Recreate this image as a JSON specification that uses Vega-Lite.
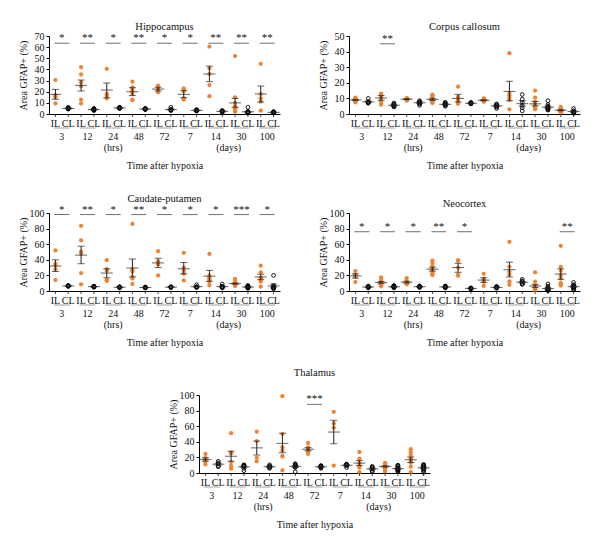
{
"$schema": "https://vega.github.io/schema/vega-lite/v6.json",
"padding": {"left": 18, "top": 21, "right": 2, "bottom": 2},
"config": {
 "font": "Liberation Serif",
 "view": {"stroke": null},
 "axis": {"grid": false, "domainColor": "black", "tickColor": "black", "labelColor": "#111", "titleColor": "#111", "labelFont": "Liberation Serif", "titleFont": "Liberation Serif", "labelFontSize": 10, "titleFontSize": 10, "titleFontWeight": "normal"},
 "axisY": {"tickSize": 3, "labelPadding": 2},
 "title": {"font": "Liberation Serif", "fontSize": 10.5, "fontWeight": "normal", "color": "#111"},
 "text": {"font": "Liberation Serif", "color": "#111"}
},
"datasets": {"d": [
{"p":"all","k":"lab","t":"3","s":"IL","v":0},{"p":"all","k":"lab","t":"3","s":"CL","v":0},
{"p":"all","k":"lab","t":"12","s":"IL","v":0},{"p":"all","k":"lab","t":"12","s":"CL","v":0},
{"p":"all","k":"lab","t":"24","s":"IL","v":0},{"p":"all","k":"lab","t":"24","s":"CL","v":0},
{"p":"all","k":"lab","t":"48","s":"IL","v":0},{"p":"all","k":"lab","t":"48","s":"CL","v":0},
{"p":"all","k":"lab","t":"72","s":"IL","v":0},{"p":"all","k":"lab","t":"72","s":"CL","v":0},
{"p":"all","k":"lab","t":"7","s":"IL","v":0},{"p":"all","k":"lab","t":"7","s":"CL","v":0},
{"p":"all","k":"lab","t":"14","s":"IL","v":0},{"p":"all","k":"lab","t":"14","s":"CL","v":0},
{"p":"all","k":"lab","t":"30","s":"IL","v":0},{"p":"all","k":"lab","t":"30","s":"CL","v":0},
{"p":"all","k":"lab","t":"100","s":"IL","v":0},{"p":"all","k":"lab","t":"100","s":"CL","v":0},
{"p":"all","k":"u","t":"24","txt":"(hrs)","v":0},
{"p":"all","k":"u2","t":"14","txt":"(days)","v":0},

{"p":"H","k":"pt","t":"3","s":"IL","v":30.5},{"p":"H","k":"pt","t":"3","s":"IL","v":17},{"p":"H","k":"pt","t":"3","s":"IL","v":16},{"p":"H","k":"pt","t":"3","s":"IL","v":15},{"p":"H","k":"pt","t":"3","s":"IL","v":9.5},
{"p":"H","k":"pt","t":"3","s":"CL","v":4.5},{"p":"H","k":"pt","t":"3","s":"CL","v":5},{"p":"H","k":"pt","t":"3","s":"CL","v":5.5},{"p":"H","k":"pt","t":"3","s":"CL","v":5},{"p":"H","k":"pt","t":"3","s":"CL","v":6},{"p":"H","k":"pt","t":"3","s":"CL","v":4.5},
{"p":"H","k":"pt","t":"12","s":"IL","v":42},{"p":"H","k":"pt","t":"12","s":"IL","v":35.5},{"p":"H","k":"pt","t":"12","s":"IL","v":28.5},{"p":"H","k":"pt","t":"12","s":"IL","v":25},{"p":"H","k":"pt","t":"12","s":"IL","v":13},{"p":"H","k":"pt","t":"12","s":"IL","v":9.5},
{"p":"H","k":"pt","t":"12","s":"CL","v":3},{"p":"H","k":"pt","t":"12","s":"CL","v":4},{"p":"H","k":"pt","t":"12","s":"CL","v":4.5},{"p":"H","k":"pt","t":"12","s":"CL","v":5},{"p":"H","k":"pt","t":"12","s":"CL","v":3.5},{"p":"H","k":"pt","t":"12","s":"CL","v":4},{"p":"H","k":"pt","t":"12","s":"CL","v":4.5},
{"p":"H","k":"pt","t":"24","s":"IL","v":40.5},{"p":"H","k":"pt","t":"24","s":"IL","v":18},{"p":"H","k":"pt","t":"24","s":"IL","v":17},{"p":"H","k":"pt","t":"24","s":"IL","v":15.5},{"p":"H","k":"pt","t":"24","s":"IL","v":14},
{"p":"H","k":"pt","t":"24","s":"CL","v":5},{"p":"H","k":"pt","t":"24","s":"CL","v":6},{"p":"H","k":"pt","t":"24","s":"CL","v":5.5},{"p":"H","k":"pt","t":"24","s":"CL","v":6},{"p":"H","k":"pt","t":"24","s":"CL","v":5},
{"p":"H","k":"pt","t":"48","s":"IL","v":29},{"p":"H","k":"pt","t":"48","s":"IL","v":24},{"p":"H","k":"pt","t":"48","s":"IL","v":22},{"p":"H","k":"pt","t":"48","s":"IL","v":20},{"p":"H","k":"pt","t":"48","s":"IL","v":18},{"p":"H","k":"pt","t":"48","s":"IL","v":13},{"p":"H","k":"pt","t":"48","s":"IL","v":12.5},
{"p":"H","k":"pt","t":"48","s":"CL","v":4},{"p":"H","k":"pt","t":"48","s":"CL","v":5},{"p":"H","k":"pt","t":"48","s":"CL","v":4.5},{"p":"H","k":"pt","t":"48","s":"CL","v":5},{"p":"H","k":"pt","t":"48","s":"CL","v":4},{"p":"H","k":"pt","t":"48","s":"CL","v":4.5},
{"p":"H","k":"pt","t":"72","s":"IL","v":25.5},{"p":"H","k":"pt","t":"72","s":"IL","v":24.5},{"p":"H","k":"pt","t":"72","s":"IL","v":22},{"p":"H","k":"pt","t":"72","s":"IL","v":21},{"p":"H","k":"pt","t":"72","s":"IL","v":19.5},
{"p":"H","k":"pt","t":"72","s":"CL","v":6},{"p":"H","k":"pt","t":"72","s":"CL","v":4},{"p":"H","k":"pt","t":"72","s":"CL","v":3.5},{"p":"H","k":"pt","t":"72","s":"CL","v":4},{"p":"H","k":"pt","t":"72","s":"CL","v":3},
{"p":"H","k":"pt","t":"7","s":"IL","v":23},{"p":"H","k":"pt","t":"7","s":"IL","v":22},{"p":"H","k":"pt","t":"7","s":"IL","v":20.5},{"p":"H","k":"pt","t":"7","s":"IL","v":14},{"p":"H","k":"pt","t":"7","s":"IL","v":13},{"p":"H","k":"pt","t":"7","s":"IL","v":13.5},
{"p":"H","k":"pt","t":"7","s":"CL","v":3.5},{"p":"H","k":"pt","t":"7","s":"CL","v":3},{"p":"H","k":"pt","t":"7","s":"CL","v":2.5},{"p":"H","k":"pt","t":"7","s":"CL","v":3},{"p":"H","k":"pt","t":"7","s":"CL","v":4},
{"p":"H","k":"pt","t":"14","s":"IL","v":60.5},{"p":"H","k":"pt","t":"14","s":"IL","v":41},{"p":"H","k":"pt","t":"14","s":"IL","v":36},{"p":"H","k":"pt","t":"14","s":"IL","v":26},{"p":"H","k":"pt","t":"14","s":"IL","v":16},
{"p":"H","k":"pt","t":"14","s":"CL","v":3},{"p":"H","k":"pt","t":"14","s":"CL","v":2},{"p":"H","k":"pt","t":"14","s":"CL","v":1.5},{"p":"H","k":"pt","t":"14","s":"CL","v":2.5},{"p":"H","k":"pt","t":"14","s":"CL","v":3},
{"p":"H","k":"pt","t":"30","s":"IL","v":52},{"p":"H","k":"pt","t":"30","s":"IL","v":15},{"p":"H","k":"pt","t":"30","s":"IL","v":10},{"p":"H","k":"pt","t":"30","s":"IL","v":7},{"p":"H","k":"pt","t":"30","s":"IL","v":6},{"p":"H","k":"pt","t":"30","s":"IL","v":5},{"p":"H","k":"pt","t":"30","s":"IL","v":4.5},{"p":"H","k":"pt","t":"30","s":"IL","v":4},{"p":"H","k":"pt","t":"30","s":"IL","v":3.5},{"p":"H","k":"pt","t":"30","s":"IL","v":3},{"p":"H","k":"pt","t":"30","s":"IL","v":2.5},{"p":"H","k":"pt","t":"30","s":"IL","v":2},
{"p":"H","k":"pt","t":"30","s":"CL","v":6},{"p":"H","k":"pt","t":"30","s":"CL","v":2},{"p":"H","k":"pt","t":"30","s":"CL","v":1.5},{"p":"H","k":"pt","t":"30","s":"CL","v":1},{"p":"H","k":"pt","t":"30","s":"CL","v":2},{"p":"H","k":"pt","t":"30","s":"CL","v":1.5},{"p":"H","k":"pt","t":"30","s":"CL","v":1},{"p":"H","k":"pt","t":"30","s":"CL","v":2},{"p":"H","k":"pt","t":"30","s":"CL","v":1},
{"p":"H","k":"pt","t":"100","s":"IL","v":45},{"p":"H","k":"pt","t":"100","s":"IL","v":18},{"p":"H","k":"pt","t":"100","s":"IL","v":14},{"p":"H","k":"pt","t":"100","s":"IL","v":11},{"p":"H","k":"pt","t":"100","s":"IL","v":3},
{"p":"H","k":"pt","t":"100","s":"CL","v":2},{"p":"H","k":"pt","t":"100","s":"CL","v":1.5},{"p":"H","k":"pt","t":"100","s":"CL","v":1},{"p":"H","k":"pt","t":"100","s":"CL","v":2},{"p":"H","k":"pt","t":"100","s":"CL","v":1.5},{"p":"H","k":"pt","t":"100","s":"CL","v":1},
{"p":"H","k":"sm","t":"3","s":"IL","v":17.6,"lo":13.2,"hi":22.1},{"p":"H","k":"sm","t":"3","s":"CL","v":5,"lo":4.6,"hi":5.4},
{"p":"H","k":"sm","t":"12","s":"IL","v":25.7,"lo":20.6,"hi":30.5},{"p":"H","k":"sm","t":"12","s":"CL","v":4,"lo":3.6,"hi":4.4},
{"p":"H","k":"sm","t":"24","s":"IL","v":21.5,"lo":14.5,"hi":27.8},{"p":"H","k":"sm","t":"24","s":"CL","v":5.5,"lo":5.2,"hi":5.8},
{"p":"H","k":"sm","t":"48","s":"IL","v":20,"lo":16.5,"hi":23.6},{"p":"H","k":"sm","t":"48","s":"CL","v":4.5,"lo":4.3,"hi":4.7},
{"p":"H","k":"sm","t":"72","s":"IL","v":22.4,"lo":20.6,"hi":24},{"p":"H","k":"sm","t":"72","s":"CL","v":4,"lo":3.4,"hi":4.6},
{"p":"H","k":"sm","t":"7","s":"IL","v":17.6,"lo":14.7,"hi":21},{"p":"H","k":"sm","t":"7","s":"CL","v":3.2,"lo":2.9,"hi":3.5},
{"p":"H","k":"sm","t":"14","s":"IL","v":35.9,"lo":29,"hi":43},{"p":"H","k":"sm","t":"14","s":"CL","v":2.4,"lo":2.1,"hi":2.7},
{"p":"H","k":"sm","t":"30","s":"IL","v":10,"lo":6,"hi":14},{"p":"H","k":"sm","t":"30","s":"CL","v":2,"lo":1.5,"hi":2.5},
{"p":"H","k":"sm","t":"100","s":"IL","v":18,"lo":10.8,"hi":25.1},{"p":"H","k":"sm","t":"100","s":"CL","v":1.5,"lo":1.3,"hi":1.7},
{"p":"H","k":"sig","t":"3","v":63.5,"star":"*"},{"p":"H","k":"sig","t":"12","v":63.5,"star":"**"},{"p":"H","k":"sig","t":"24","v":63.5,"star":"*"},{"p":"H","k":"sig","t":"48","v":63.5,"star":"**"},{"p":"H","k":"sig","t":"72","v":63.5,"star":"*"},{"p":"H","k":"sig","t":"7","v":63.5,"star":"*"},{"p":"H","k":"sig","t":"14","v":63.5,"star":"**"},{"p":"H","k":"sig","t":"30","v":63.5,"star":"**"},{"p":"H","k":"sig","t":"100","v":63.5,"star":"**"},

{"p":"C","k":"pt","t":"3","s":"IL","v":10.5},{"p":"C","k":"pt","t":"3","s":"IL","v":10},{"p":"C","k":"pt","t":"3","s":"IL","v":9.5},{"p":"C","k":"pt","t":"3","s":"IL","v":9},{"p":"C","k":"pt","t":"3","s":"IL","v":8.5},{"p":"C","k":"pt","t":"3","s":"IL","v":8},{"p":"C","k":"pt","t":"3","s":"IL","v":7.5},
{"p":"C","k":"pt","t":"3","s":"CL","v":10},{"p":"C","k":"pt","t":"3","s":"CL","v":8},{"p":"C","k":"pt","t":"3","s":"CL","v":7.5},{"p":"C","k":"pt","t":"3","s":"CL","v":7.5},{"p":"C","k":"pt","t":"3","s":"CL","v":7},{"p":"C","k":"pt","t":"3","s":"CL","v":7},
{"p":"C","k":"pt","t":"12","s":"IL","v":13},{"p":"C","k":"pt","t":"12","s":"IL","v":12.5},{"p":"C","k":"pt","t":"12","s":"IL","v":12},{"p":"C","k":"pt","t":"12","s":"IL","v":11.5},{"p":"C","k":"pt","t":"12","s":"IL","v":10.5},{"p":"C","k":"pt","t":"12","s":"IL","v":9},{"p":"C","k":"pt","t":"12","s":"IL","v":8.5},{"p":"C","k":"pt","t":"12","s":"IL","v":7},{"p":"C","k":"pt","t":"12","s":"IL","v":6},
{"p":"C","k":"pt","t":"12","s":"CL","v":7},{"p":"C","k":"pt","t":"12","s":"CL","v":6.5},{"p":"C","k":"pt","t":"12","s":"CL","v":6},{"p":"C","k":"pt","t":"12","s":"CL","v":5.5},{"p":"C","k":"pt","t":"12","s":"CL","v":5},{"p":"C","k":"pt","t":"12","s":"CL","v":5},{"p":"C","k":"pt","t":"12","s":"CL","v":4.5},
{"p":"C","k":"pt","t":"24","s":"IL","v":10},{"p":"C","k":"pt","t":"24","s":"IL","v":9.5},{"p":"C","k":"pt","t":"24","s":"IL","v":10},{"p":"C","k":"pt","t":"24","s":"IL","v":9},{"p":"C","k":"pt","t":"24","s":"IL","v":9.5},{"p":"C","k":"pt","t":"24","s":"IL","v":8.5},{"p":"C","k":"pt","t":"24","s":"IL","v":10},
{"p":"C","k":"pt","t":"24","s":"CL","v":8.5},{"p":"C","k":"pt","t":"24","s":"CL","v":8},{"p":"C","k":"pt","t":"24","s":"CL","v":7.5},{"p":"C","k":"pt","t":"24","s":"CL","v":7},{"p":"C","k":"pt","t":"24","s":"CL","v":6.5},{"p":"C","k":"pt","t":"24","s":"CL","v":5.5},
{"p":"C","k":"pt","t":"48","s":"IL","v":12.5},{"p":"C","k":"pt","t":"48","s":"IL","v":12},{"p":"C","k":"pt","t":"48","s":"IL","v":10.5},{"p":"C","k":"pt","t":"48","s":"IL","v":9.5},{"p":"C","k":"pt","t":"48","s":"IL","v":8.5},{"p":"C","k":"pt","t":"48","s":"IL","v":8},{"p":"C","k":"pt","t":"48","s":"IL","v":7.5},{"p":"C","k":"pt","t":"48","s":"IL","v":7},
{"p":"C","k":"pt","t":"48","s":"CL","v":7.5},{"p":"C","k":"pt","t":"48","s":"CL","v":7},{"p":"C","k":"pt","t":"48","s":"CL","v":6.5},{"p":"C","k":"pt","t":"48","s":"CL","v":6},{"p":"C","k":"pt","t":"48","s":"CL","v":5.5},{"p":"C","k":"pt","t":"48","s":"CL","v":5},{"p":"C","k":"pt","t":"48","s":"CL","v":6},
{"p":"C","k":"pt","t":"72","s":"IL","v":17.5},{"p":"C","k":"pt","t":"72","s":"IL","v":11},{"p":"C","k":"pt","t":"72","s":"IL","v":10},{"p":"C","k":"pt","t":"72","s":"IL","v":8.5},{"p":"C","k":"pt","t":"72","s":"IL","v":7.5},{"p":"C","k":"pt","t":"72","s":"IL","v":6.5},{"p":"C","k":"pt","t":"72","s":"IL","v":7},
{"p":"C","k":"pt","t":"72","s":"CL","v":7.5},{"p":"C","k":"pt","t":"72","s":"CL","v":7},{"p":"C","k":"pt","t":"72","s":"CL","v":7},{"p":"C","k":"pt","t":"72","s":"CL","v":6.5},{"p":"C","k":"pt","t":"72","s":"CL","v":6.5},
{"p":"C","k":"pt","t":"7","s":"IL","v":10},{"p":"C","k":"pt","t":"7","s":"IL","v":9.5},{"p":"C","k":"pt","t":"7","s":"IL","v":9},{"p":"C","k":"pt","t":"7","s":"IL","v":8.5},{"p":"C","k":"pt","t":"7","s":"IL","v":8},{"p":"C","k":"pt","t":"7","s":"IL","v":8},
{"p":"C","k":"pt","t":"7","s":"CL","v":6.5},{"p":"C","k":"pt","t":"7","s":"CL","v":6},{"p":"C","k":"pt","t":"7","s":"CL","v":5.5},{"p":"C","k":"pt","t":"7","s":"CL","v":5},{"p":"C","k":"pt","t":"7","s":"CL","v":4.5},{"p":"C","k":"pt","t":"7","s":"CL","v":3.5},
{"p":"C","k":"pt","t":"14","s":"IL","v":39},{"p":"C","k":"pt","t":"14","s":"IL","v":13.5},{"p":"C","k":"pt","t":"14","s":"IL","v":12},{"p":"C","k":"pt","t":"14","s":"IL","v":10.5},{"p":"C","k":"pt","t":"14","s":"IL","v":9},{"p":"C","k":"pt","t":"14","s":"IL","v":3},
{"p":"C","k":"pt","t":"14","s":"CL","v":12.5},{"p":"C","k":"pt","t":"14","s":"CL","v":9.5},{"p":"C","k":"pt","t":"14","s":"CL","v":7.5},{"p":"C","k":"pt","t":"14","s":"CL","v":5.5},{"p":"C","k":"pt","t":"14","s":"CL","v":4},{"p":"C","k":"pt","t":"14","s":"CL","v":2},
{"p":"C","k":"pt","t":"30","s":"IL","v":15},{"p":"C","k":"pt","t":"30","s":"IL","v":10.5},{"p":"C","k":"pt","t":"30","s":"IL","v":8},{"p":"C","k":"pt","t":"30","s":"IL","v":6.5},{"p":"C","k":"pt","t":"30","s":"IL","v":5.5},{"p":"C","k":"pt","t":"30","s":"IL","v":5},{"p":"C","k":"pt","t":"30","s":"IL","v":4.5},{"p":"C","k":"pt","t":"30","s":"IL","v":4},{"p":"C","k":"pt","t":"30","s":"IL","v":3.5},{"p":"C","k":"pt","t":"30","s":"IL","v":3},
{"p":"C","k":"pt","t":"30","s":"CL","v":8.5},{"p":"C","k":"pt","t":"30","s":"CL","v":6},{"p":"C","k":"pt","t":"30","s":"CL","v":5},{"p":"C","k":"pt","t":"30","s":"CL","v":4.5},{"p":"C","k":"pt","t":"30","s":"CL","v":4},{"p":"C","k":"pt","t":"30","s":"CL","v":3.5},{"p":"C","k":"pt","t":"30","s":"CL","v":3},{"p":"C","k":"pt","t":"30","s":"CL","v":3},{"p":"C","k":"pt","t":"30","s":"CL","v":2.5},
{"p":"C","k":"pt","t":"100","s":"IL","v":4.5},{"p":"C","k":"pt","t":"100","s":"IL","v":4},{"p":"C","k":"pt","t":"100","s":"IL","v":3.5},{"p":"C","k":"pt","t":"100","s":"IL","v":3},{"p":"C","k":"pt","t":"100","s":"IL","v":2.5},{"p":"C","k":"pt","t":"100","s":"IL","v":2},{"p":"C","k":"pt","t":"100","s":"IL","v":2},{"p":"C","k":"pt","t":"100","s":"IL","v":1.5},{"p":"C","k":"pt","t":"100","s":"IL","v":1.5},{"p":"C","k":"pt","t":"100","s":"IL","v":1},{"p":"C","k":"pt","t":"100","s":"IL","v":1},
{"p":"C","k":"pt","t":"100","s":"CL","v":3.5},{"p":"C","k":"pt","t":"100","s":"CL","v":2},{"p":"C","k":"pt","t":"100","s":"CL","v":1.5},{"p":"C","k":"pt","t":"100","s":"CL","v":1},{"p":"C","k":"pt","t":"100","s":"CL","v":1},{"p":"C","k":"pt","t":"100","s":"CL","v":0.5},
{"p":"C","k":"sm","t":"3","s":"IL","v":9,"lo":8.6,"hi":9.4},{"p":"C","k":"sm","t":"3","s":"CL","v":7.8,"lo":7.3,"hi":8.3},
{"p":"C","k":"sm","t":"12","s":"IL","v":10.3,"lo":8.8,"hi":11.8},{"p":"C","k":"sm","t":"12","s":"CL","v":5.6,"lo":5.2,"hi":6},
{"p":"C","k":"sm","t":"24","s":"IL","v":9.5,"lo":9.2,"hi":9.8},{"p":"C","k":"sm","t":"24","s":"CL","v":7.2,"lo":6.7,"hi":7.7},
{"p":"C","k":"sm","t":"48","s":"IL","v":9.4,"lo":8.7,"hi":10.1},{"p":"C","k":"sm","t":"48","s":"CL","v":6.2,"lo":5.9,"hi":6.5},
{"p":"C","k":"sm","t":"72","s":"IL","v":10,"lo":7.7,"hi":12.6},{"p":"C","k":"sm","t":"72","s":"CL","v":6.9,"lo":6.7,"hi":7.1},
{"p":"C","k":"sm","t":"7","s":"IL","v":8.8,"lo":8.5,"hi":9.1},{"p":"C","k":"sm","t":"7","s":"CL","v":5.2,"lo":4.8,"hi":5.6},
{"p":"C","k":"sm","t":"14","s":"IL","v":14.5,"lo":8.5,"hi":21},{"p":"C","k":"sm","t":"14","s":"CL","v":6.6,"lo":5,"hi":8.6},
{"p":"C","k":"sm","t":"30","s":"IL","v":6.5,"lo":5.2,"hi":8},{"p":"C","k":"sm","t":"30","s":"CL","v":4.4,"lo":3.8,"hi":5},
{"p":"C","k":"sm","t":"100","s":"IL","v":2.4,"lo":2,"hi":2.8},{"p":"C","k":"sm","t":"100","s":"CL","v":1.6,"lo":1.1,"hi":2.1},
{"p":"C","k":"sig","t":"12","v":45,"star":"**"},

{"p":"P","k":"pt","t":"3","s":"IL","v":52},{"p":"P","k":"pt","t":"3","s":"IL","v":35},{"p":"P","k":"pt","t":"3","s":"IL","v":33},{"p":"P","k":"pt","t":"3","s":"IL","v":28},{"p":"P","k":"pt","t":"3","s":"IL","v":14},
{"p":"P","k":"pt","t":"3","s":"CL","v":7},{"p":"P","k":"pt","t":"3","s":"CL","v":6.5},{"p":"P","k":"pt","t":"3","s":"CL","v":6},{"p":"P","k":"pt","t":"3","s":"CL","v":7},{"p":"P","k":"pt","t":"3","s":"CL","v":6},
{"p":"P","k":"pt","t":"12","s":"IL","v":83.5},{"p":"P","k":"pt","t":"12","s":"IL","v":65},{"p":"P","k":"pt","t":"12","s":"IL","v":50.5},{"p":"P","k":"pt","t":"12","s":"IL","v":48},{"p":"P","k":"pt","t":"12","s":"IL","v":23},{"p":"P","k":"pt","t":"12","s":"IL","v":8.5},
{"p":"P","k":"pt","t":"12","s":"CL","v":6},{"p":"P","k":"pt","t":"12","s":"CL","v":5.5},{"p":"P","k":"pt","t":"12","s":"CL","v":5},{"p":"P","k":"pt","t":"12","s":"CL","v":6},{"p":"P","k":"pt","t":"12","s":"CL","v":5},{"p":"P","k":"pt","t":"12","s":"CL","v":5.5},{"p":"P","k":"pt","t":"12","s":"CL","v":6},
{"p":"P","k":"pt","t":"24","s":"IL","v":39.5},{"p":"P","k":"pt","t":"24","s":"IL","v":28},{"p":"P","k":"pt","t":"24","s":"IL","v":26},{"p":"P","k":"pt","t":"24","s":"IL","v":14},{"p":"P","k":"pt","t":"24","s":"IL","v":13.5},{"p":"P","k":"pt","t":"24","s":"IL","v":13},
{"p":"P","k":"pt","t":"24","s":"CL","v":5},{"p":"P","k":"pt","t":"24","s":"CL","v":4.5},{"p":"P","k":"pt","t":"24","s":"CL","v":5.5},{"p":"P","k":"pt","t":"24","s":"CL","v":4},{"p":"P","k":"pt","t":"24","s":"CL","v":5},
{"p":"P","k":"pt","t":"48","s":"IL","v":86},{"p":"P","k":"pt","t":"48","s":"IL","v":28},{"p":"P","k":"pt","t":"48","s":"IL","v":25},{"p":"P","k":"pt","t":"48","s":"IL","v":18},{"p":"P","k":"pt","t":"48","s":"IL","v":16},{"p":"P","k":"pt","t":"48","s":"IL","v":9},
{"p":"P","k":"pt","t":"48","s":"CL","v":5},{"p":"P","k":"pt","t":"48","s":"CL","v":4.5},{"p":"P","k":"pt","t":"48","s":"CL","v":4},{"p":"P","k":"pt","t":"48","s":"CL","v":5},{"p":"P","k":"pt","t":"48","s":"CL","v":4.5},{"p":"P","k":"pt","t":"48","s":"CL","v":4},
{"p":"P","k":"pt","t":"72","s":"IL","v":51},{"p":"P","k":"pt","t":"72","s":"IL","v":38},{"p":"P","k":"pt","t":"72","s":"IL","v":36},{"p":"P","k":"pt","t":"72","s":"IL","v":34},{"p":"P","k":"pt","t":"72","s":"IL","v":20},
{"p":"P","k":"pt","t":"72","s":"CL","v":5},{"p":"P","k":"pt","t":"72","s":"CL","v":4.5},{"p":"P","k":"pt","t":"72","s":"CL","v":5},{"p":"P","k":"pt","t":"72","s":"CL","v":5.5},{"p":"P","k":"pt","t":"72","s":"CL","v":4.5},
{"p":"P","k":"pt","t":"7","s":"IL","v":49},{"p":"P","k":"pt","t":"7","s":"IL","v":30},{"p":"P","k":"pt","t":"7","s":"IL","v":26},{"p":"P","k":"pt","t":"7","s":"IL","v":22},{"p":"P","k":"pt","t":"7","s":"IL","v":13.5},
{"p":"P","k":"pt","t":"7","s":"CL","v":8},{"p":"P","k":"pt","t":"7","s":"CL","v":5.5},{"p":"P","k":"pt","t":"7","s":"CL","v":5},{"p":"P","k":"pt","t":"7","s":"CL","v":5},{"p":"P","k":"pt","t":"7","s":"CL","v":4.5},
{"p":"P","k":"pt","t":"14","s":"IL","v":47.5},{"p":"P","k":"pt","t":"14","s":"IL","v":20},{"p":"P","k":"pt","t":"14","s":"IL","v":17},{"p":"P","k":"pt","t":"14","s":"IL","v":16},{"p":"P","k":"pt","t":"14","s":"IL","v":14},{"p":"P","k":"pt","t":"14","s":"IL","v":12},{"p":"P","k":"pt","t":"14","s":"IL","v":7.5},
{"p":"P","k":"pt","t":"14","s":"CL","v":9},{"p":"P","k":"pt","t":"14","s":"CL","v":6},{"p":"P","k":"pt","t":"14","s":"CL","v":5.5},{"p":"P","k":"pt","t":"14","s":"CL","v":5},{"p":"P","k":"pt","t":"14","s":"CL","v":4.5},{"p":"P","k":"pt","t":"14","s":"CL","v":4},
{"p":"P","k":"pt","t":"30","s":"IL","v":15.5},{"p":"P","k":"pt","t":"30","s":"IL","v":13},{"p":"P","k":"pt","t":"30","s":"IL","v":11},{"p":"P","k":"pt","t":"30","s":"IL","v":10},{"p":"P","k":"pt","t":"30","s":"IL","v":9.5},{"p":"P","k":"pt","t":"30","s":"IL","v":9},{"p":"P","k":"pt","t":"30","s":"IL","v":8.5},{"p":"P","k":"pt","t":"30","s":"IL","v":8},{"p":"P","k":"pt","t":"30","s":"IL","v":7.5},{"p":"P","k":"pt","t":"30","s":"IL","v":7},{"p":"P","k":"pt","t":"30","s":"IL","v":6.5},
{"p":"P","k":"pt","t":"30","s":"CL","v":7},{"p":"P","k":"pt","t":"30","s":"CL","v":6.5},{"p":"P","k":"pt","t":"30","s":"CL","v":6},{"p":"P","k":"pt","t":"30","s":"CL","v":5.5},{"p":"P","k":"pt","t":"30","s":"CL","v":5},{"p":"P","k":"pt","t":"30","s":"CL","v":5},{"p":"P","k":"pt","t":"30","s":"CL","v":4.5},{"p":"P","k":"pt","t":"30","s":"CL","v":4},{"p":"P","k":"pt","t":"30","s":"CL","v":4},{"p":"P","k":"pt","t":"30","s":"CL","v":3.5},
{"p":"P","k":"pt","t":"100","s":"IL","v":32.5},{"p":"P","k":"pt","t":"100","s":"IL","v":24},{"p":"P","k":"pt","t":"100","s":"IL","v":17},{"p":"P","k":"pt","t":"100","s":"IL","v":15},{"p":"P","k":"pt","t":"100","s":"IL","v":16},{"p":"P","k":"pt","t":"100","s":"IL","v":14},{"p":"P","k":"pt","t":"100","s":"IL","v":12},{"p":"P","k":"pt","t":"100","s":"IL","v":5.5},
{"p":"P","k":"pt","t":"100","s":"CL","v":20},{"p":"P","k":"pt","t":"100","s":"CL","v":7},{"p":"P","k":"pt","t":"100","s":"CL","v":6},{"p":"P","k":"pt","t":"100","s":"CL","v":5},{"p":"P","k":"pt","t":"100","s":"CL","v":4},{"p":"P","k":"pt","t":"100","s":"CL","v":3.5},{"p":"P","k":"pt","t":"100","s":"CL","v":3},
{"p":"P","k":"sm","t":"3","s":"IL","v":32,"lo":25,"hi":40},{"p":"P","k":"sm","t":"3","s":"CL","v":6.5,"lo":6.2,"hi":6.8},
{"p":"P","k":"sm","t":"12","s":"IL","v":46,"lo":35,"hi":57.5},{"p":"P","k":"sm","t":"12","s":"CL","v":5.6,"lo":5.3,"hi":5.9},
{"p":"P","k":"sm","t":"24","s":"IL","v":23,"lo":17,"hi":28.5},{"p":"P","k":"sm","t":"24","s":"CL","v":4.8,"lo":4.5,"hi":5.1},
{"p":"P","k":"sm","t":"48","s":"IL","v":29.5,"lo":18,"hi":41},{"p":"P","k":"sm","t":"48","s":"CL","v":4.5,"lo":4.3,"hi":4.7},
{"p":"P","k":"sm","t":"72","s":"IL","v":36,"lo":30,"hi":42},{"p":"P","k":"sm","t":"72","s":"CL","v":5,"lo":4.8,"hi":5.2},
{"p":"P","k":"sm","t":"7","s":"IL","v":28.5,"lo":22,"hi":36.5},{"p":"P","k":"sm","t":"7","s":"CL","v":5.6,"lo":4.9,"hi":6.3},
{"p":"P","k":"sm","t":"14","s":"IL","v":19,"lo":12.5,"hi":26.5},{"p":"P","k":"sm","t":"14","s":"CL","v":5.7,"lo":5,"hi":6.4},
{"p":"P","k":"sm","t":"30","s":"IL","v":9.5,"lo":8.7,"hi":10.3},{"p":"P","k":"sm","t":"30","s":"CL","v":5.1,"lo":4.7,"hi":5.5},
{"p":"P","k":"sm","t":"100","s":"IL","v":18,"lo":14.5,"hi":21.5},{"p":"P","k":"sm","t":"100","s":"CL","v":6.5,"lo":4.3,"hi":9},
{"p":"P","k":"sig","t":"3","v":98,"star":"*"},{"p":"P","k":"sig","t":"12","v":98,"star":"**"},{"p":"P","k":"sig","t":"24","v":98,"star":"*"},{"p":"P","k":"sig","t":"48","v":98,"star":"**"},{"p":"P","k":"sig","t":"72","v":98,"star":"*"},{"p":"P","k":"sig","t":"7","v":98,"star":"*"},{"p":"P","k":"sig","t":"14","v":98,"star":"*"},{"p":"P","k":"sig","t":"30","v":98,"star":"***"},{"p":"P","k":"sig","t":"100","v":98,"star":"*"},

{"p":"N","k":"pt","t":"3","s":"IL","v":25.5},{"p":"N","k":"pt","t":"3","s":"IL","v":21.5},{"p":"N","k":"pt","t":"3","s":"IL","v":20},{"p":"N","k":"pt","t":"3","s":"IL","v":18.5},{"p":"N","k":"pt","t":"3","s":"IL","v":11.5},
{"p":"N","k":"pt","t":"3","s":"CL","v":6.5},{"p":"N","k":"pt","t":"3","s":"CL","v":5.5},{"p":"N","k":"pt","t":"3","s":"CL","v":5},{"p":"N","k":"pt","t":"3","s":"CL","v":4.5},{"p":"N","k":"pt","t":"3","s":"CL","v":4},
{"p":"N","k":"pt","t":"12","s":"IL","v":17.5},{"p":"N","k":"pt","t":"12","s":"IL","v":14},{"p":"N","k":"pt","t":"12","s":"IL","v":12.5},{"p":"N","k":"pt","t":"12","s":"IL","v":11},{"p":"N","k":"pt","t":"12","s":"IL","v":9.5},{"p":"N","k":"pt","t":"12","s":"IL","v":8.5},{"p":"N","k":"pt","t":"12","s":"IL","v":7},{"p":"N","k":"pt","t":"12","s":"IL","v":6},
{"p":"N","k":"pt","t":"12","s":"CL","v":7},{"p":"N","k":"pt","t":"12","s":"CL","v":6.5},{"p":"N","k":"pt","t":"12","s":"CL","v":6},{"p":"N","k":"pt","t":"12","s":"CL","v":5.5},{"p":"N","k":"pt","t":"12","s":"CL","v":5},{"p":"N","k":"pt","t":"12","s":"CL","v":4.5},{"p":"N","k":"pt","t":"12","s":"CL","v":4},{"p":"N","k":"pt","t":"12","s":"CL","v":5},
{"p":"N","k":"pt","t":"24","s":"IL","v":16.5},{"p":"N","k":"pt","t":"24","s":"IL","v":12},{"p":"N","k":"pt","t":"24","s":"IL","v":11},{"p":"N","k":"pt","t":"24","s":"IL","v":10.5},{"p":"N","k":"pt","t":"24","s":"IL","v":10},{"p":"N","k":"pt","t":"24","s":"IL","v":8.5},
{"p":"N","k":"pt","t":"24","s":"CL","v":6.5},{"p":"N","k":"pt","t":"24","s":"CL","v":6},{"p":"N","k":"pt","t":"24","s":"CL","v":5},{"p":"N","k":"pt","t":"24","s":"CL","v":4.5},{"p":"N","k":"pt","t":"24","s":"CL","v":5.5},
{"p":"N","k":"pt","t":"48","s":"IL","v":39},{"p":"N","k":"pt","t":"48","s":"IL","v":36},{"p":"N","k":"pt","t":"48","s":"IL","v":32},{"p":"N","k":"pt","t":"48","s":"IL","v":28},{"p":"N","k":"pt","t":"48","s":"IL","v":25},{"p":"N","k":"pt","t":"48","s":"IL","v":23},{"p":"N","k":"pt","t":"48","s":"IL","v":21.5},{"p":"N","k":"pt","t":"48","s":"IL","v":20.5},
{"p":"N","k":"pt","t":"48","s":"CL","v":6.5},{"p":"N","k":"pt","t":"48","s":"CL","v":6},{"p":"N","k":"pt","t":"48","s":"CL","v":5.5},{"p":"N","k":"pt","t":"48","s":"CL","v":5},{"p":"N","k":"pt","t":"48","s":"CL","v":5},{"p":"N","k":"pt","t":"48","s":"CL","v":4.5},{"p":"N","k":"pt","t":"48","s":"CL","v":4},
{"p":"N","k":"pt","t":"72","s":"IL","v":39.5},{"p":"N","k":"pt","t":"72","s":"IL","v":38.5},{"p":"N","k":"pt","t":"72","s":"IL","v":30},{"p":"N","k":"pt","t":"72","s":"IL","v":21},{"p":"N","k":"pt","t":"72","s":"IL","v":19.5},
{"p":"N","k":"pt","t":"72","s":"CL","v":4},{"p":"N","k":"pt","t":"72","s":"CL","v":3.5},{"p":"N","k":"pt","t":"72","s":"CL","v":3},{"p":"N","k":"pt","t":"72","s":"CL","v":3.5},{"p":"N","k":"pt","t":"72","s":"CL","v":2.5},
{"p":"N","k":"pt","t":"7","s":"IL","v":22},{"p":"N","k":"pt","t":"7","s":"IL","v":15.5},{"p":"N","k":"pt","t":"7","s":"IL","v":14},{"p":"N","k":"pt","t":"7","s":"IL","v":12},{"p":"N","k":"pt","t":"7","s":"IL","v":6.5},
{"p":"N","k":"pt","t":"7","s":"CL","v":6},{"p":"N","k":"pt","t":"7","s":"CL","v":5},{"p":"N","k":"pt","t":"7","s":"CL","v":4.5},{"p":"N","k":"pt","t":"7","s":"CL","v":4},{"p":"N","k":"pt","t":"7","s":"CL","v":3.5},
{"p":"N","k":"pt","t":"14","s":"IL","v":63},{"p":"N","k":"pt","t":"14","s":"IL","v":31},{"p":"N","k":"pt","t":"14","s":"IL","v":25},{"p":"N","k":"pt","t":"14","s":"IL","v":21},{"p":"N","k":"pt","t":"14","s":"IL","v":12.5},{"p":"N","k":"pt","t":"14","s":"IL","v":8},
{"p":"N","k":"pt","t":"14","s":"CL","v":15},{"p":"N","k":"pt","t":"14","s":"CL","v":13},{"p":"N","k":"pt","t":"14","s":"CL","v":12},{"p":"N","k":"pt","t":"14","s":"CL","v":10},{"p":"N","k":"pt","t":"14","s":"CL","v":9},{"p":"N","k":"pt","t":"14","s":"CL","v":8.5},
{"p":"N","k":"pt","t":"30","s":"IL","v":24},{"p":"N","k":"pt","t":"30","s":"IL","v":12},{"p":"N","k":"pt","t":"30","s":"IL","v":7},{"p":"N","k":"pt","t":"30","s":"IL","v":6},{"p":"N","k":"pt","t":"30","s":"IL","v":5},{"p":"N","k":"pt","t":"30","s":"IL","v":4},{"p":"N","k":"pt","t":"30","s":"IL","v":3},{"p":"N","k":"pt","t":"30","s":"IL","v":2},{"p":"N","k":"pt","t":"30","s":"IL","v":1.5},{"p":"N","k":"pt","t":"30","s":"IL","v":1},
{"p":"N","k":"pt","t":"30","s":"CL","v":9},{"p":"N","k":"pt","t":"30","s":"CL","v":6},{"p":"N","k":"pt","t":"30","s":"CL","v":4},{"p":"N","k":"pt","t":"30","s":"CL","v":3},{"p":"N","k":"pt","t":"30","s":"CL","v":2},{"p":"N","k":"pt","t":"30","s":"CL","v":1.5},{"p":"N","k":"pt","t":"30","s":"CL","v":1},{"p":"N","k":"pt","t":"30","s":"CL","v":1},{"p":"N","k":"pt","t":"30","s":"CL","v":0.5},
{"p":"N","k":"pt","t":"100","s":"IL","v":58},{"p":"N","k":"pt","t":"100","s":"IL","v":31},{"p":"N","k":"pt","t":"100","s":"IL","v":26},{"p":"N","k":"pt","t":"100","s":"IL","v":20},{"p":"N","k":"pt","t":"100","s":"IL","v":16},{"p":"N","k":"pt","t":"100","s":"IL","v":10},{"p":"N","k":"pt","t":"100","s":"IL","v":9},{"p":"N","k":"pt","t":"100","s":"IL","v":8},{"p":"N","k":"pt","t":"100","s":"IL","v":7},
{"p":"N","k":"pt","t":"100","s":"CL","v":11},{"p":"N","k":"pt","t":"100","s":"CL","v":8},{"p":"N","k":"pt","t":"100","s":"CL","v":7},{"p":"N","k":"pt","t":"100","s":"CL","v":6},{"p":"N","k":"pt","t":"100","s":"CL","v":5.5},{"p":"N","k":"pt","t":"100","s":"CL","v":5},{"p":"N","k":"pt","t":"100","s":"CL","v":4},{"p":"N","k":"pt","t":"100","s":"CL","v":2.5},{"p":"N","k":"pt","t":"100","s":"CL","v":1.5},
{"p":"N","k":"sm","t":"3","s":"IL","v":19.4,"lo":16.5,"hi":22},{"p":"N","k":"sm","t":"3","s":"CL","v":5.1,"lo":4.7,"hi":5.5},
{"p":"N","k":"sm","t":"12","s":"IL","v":10.8,"lo":9.4,"hi":12.2},{"p":"N","k":"sm","t":"12","s":"CL","v":5.4,"lo":5,"hi":5.8},
{"p":"N","k":"sm","t":"24","s":"IL","v":11.4,"lo":10.2,"hi":12.6},{"p":"N","k":"sm","t":"24","s":"CL","v":5.5,"lo":5.1,"hi":5.9},
{"p":"N","k":"sm","t":"48","s":"IL","v":28,"lo":25.5,"hi":30.5},{"p":"N","k":"sm","t":"48","s":"CL","v":5.2,"lo":4.9,"hi":5.5},
{"p":"N","k":"sm","t":"72","s":"IL","v":30,"lo":24,"hi":35.5},{"p":"N","k":"sm","t":"72","s":"CL","v":3.3,"lo":3,"hi":3.6},
{"p":"N","k":"sm","t":"7","s":"IL","v":14,"lo":11,"hi":17},{"p":"N","k":"sm","t":"7","s":"CL","v":4.6,"lo":4.2,"hi":5},
{"p":"N","k":"sm","t":"14","s":"IL","v":27.3,"lo":18,"hi":37},{"p":"N","k":"sm","t":"14","s":"CL","v":11.2,"lo":10.2,"hi":12.2},
{"p":"N","k":"sm","t":"30","s":"IL","v":6.5,"lo":4.4,"hi":8.6},{"p":"N","k":"sm","t":"30","s":"CL","v":3.1,"lo":2.2,"hi":4},
{"p":"N","k":"sm","t":"100","s":"IL","v":21.8,"lo":15,"hi":28.5},{"p":"N","k":"sm","t":"100","s":"CL","v":5.6,"lo":4.6,"hi":6.6},
{"p":"N","k":"sig","t":"3","v":76,"star":"*"},{"p":"N","k":"sig","t":"12","v":76,"star":"*"},{"p":"N","k":"sig","t":"24","v":76,"star":"*"},{"p":"N","k":"sig","t":"48","v":76,"star":"**"},{"p":"N","k":"sig","t":"72","v":76,"star":"*"},{"p":"N","k":"sig","t":"100","v":76,"star":"**"},

{"p":"T","k":"pt","t":"3","s":"IL","v":24.5},{"p":"T","k":"pt","t":"3","s":"IL","v":19},{"p":"T","k":"pt","t":"3","s":"IL","v":18},{"p":"T","k":"pt","t":"3","s":"IL","v":16.5},{"p":"T","k":"pt","t":"3","s":"IL","v":15},{"p":"T","k":"pt","t":"3","s":"IL","v":11},
{"p":"T","k":"pt","t":"3","s":"CL","v":15},{"p":"T","k":"pt","t":"3","s":"CL","v":13},{"p":"T","k":"pt","t":"3","s":"CL","v":11.5},{"p":"T","k":"pt","t":"3","s":"CL","v":9},{"p":"T","k":"pt","t":"3","s":"CL","v":8},
{"p":"T","k":"pt","t":"12","s":"IL","v":51},{"p":"T","k":"pt","t":"12","s":"IL","v":26.5},{"p":"T","k":"pt","t":"12","s":"IL","v":25},{"p":"T","k":"pt","t":"12","s":"IL","v":14},{"p":"T","k":"pt","t":"12","s":"IL","v":9},{"p":"T","k":"pt","t":"12","s":"IL","v":5.5},
{"p":"T","k":"pt","t":"12","s":"CL","v":10.5},{"p":"T","k":"pt","t":"12","s":"CL","v":10},{"p":"T","k":"pt","t":"12","s":"CL","v":9},{"p":"T","k":"pt","t":"12","s":"CL","v":8.5},{"p":"T","k":"pt","t":"12","s":"CL","v":8},{"p":"T","k":"pt","t":"12","s":"CL","v":6},{"p":"T","k":"pt","t":"12","s":"CL","v":3},
{"p":"T","k":"pt","t":"24","s":"IL","v":53},{"p":"T","k":"pt","t":"24","s":"IL","v":41},{"p":"T","k":"pt","t":"24","s":"IL","v":19.5},{"p":"T","k":"pt","t":"24","s":"IL","v":15},
{"p":"T","k":"pt","t":"24","s":"CL","v":10.5},{"p":"T","k":"pt","t":"24","s":"CL","v":9},{"p":"T","k":"pt","t":"24","s":"CL","v":8},{"p":"T","k":"pt","t":"24","s":"CL","v":7},{"p":"T","k":"pt","t":"24","s":"CL","v":6},
{"p":"T","k":"pt","t":"48","s":"IL","v":98.5},{"p":"T","k":"pt","t":"48","s":"IL","v":50},{"p":"T","k":"pt","t":"48","s":"IL","v":33},{"p":"T","k":"pt","t":"48","s":"IL","v":29},{"p":"T","k":"pt","t":"48","s":"IL","v":22},{"p":"T","k":"pt","t":"48","s":"IL","v":21},{"p":"T","k":"pt","t":"48","s":"IL","v":3.5},
{"p":"T","k":"pt","t":"48","s":"CL","v":12},{"p":"T","k":"pt","t":"48","s":"CL","v":11},{"p":"T","k":"pt","t":"48","s":"CL","v":10},{"p":"T","k":"pt","t":"48","s":"CL","v":9.5},{"p":"T","k":"pt","t":"48","s":"CL","v":9},{"p":"T","k":"pt","t":"48","s":"CL","v":8},{"p":"T","k":"pt","t":"48","s":"CL","v":7},{"p":"T","k":"pt","t":"48","s":"CL","v":1.5},
{"p":"T","k":"pt","t":"72","s":"IL","v":38.5},{"p":"T","k":"pt","t":"72","s":"IL","v":33},{"p":"T","k":"pt","t":"72","s":"IL","v":31},{"p":"T","k":"pt","t":"72","s":"IL","v":28},{"p":"T","k":"pt","t":"72","s":"IL","v":26},{"p":"T","k":"pt","t":"72","s":"IL","v":24.5},
{"p":"T","k":"pt","t":"72","s":"CL","v":9.5},{"p":"T","k":"pt","t":"72","s":"CL","v":9},{"p":"T","k":"pt","t":"72","s":"CL","v":8.5},{"p":"T","k":"pt","t":"72","s":"CL","v":8},{"p":"T","k":"pt","t":"72","s":"CL","v":7},{"p":"T","k":"pt","t":"72","s":"CL","v":6},
{"p":"T","k":"pt","t":"7","s":"IL","v":78.5},{"p":"T","k":"pt","t":"7","s":"IL","v":63.5},{"p":"T","k":"pt","t":"7","s":"IL","v":58},{"p":"T","k":"pt","t":"7","s":"IL","v":9.5},
{"p":"T","k":"pt","t":"7","s":"CL","v":11.5},{"p":"T","k":"pt","t":"7","s":"CL","v":11},{"p":"T","k":"pt","t":"7","s":"CL","v":10.5},{"p":"T","k":"pt","t":"7","s":"CL","v":10},{"p":"T","k":"pt","t":"7","s":"CL","v":9.5},{"p":"T","k":"pt","t":"7","s":"CL","v":7},
{"p":"T","k":"pt","t":"14","s":"IL","v":27},{"p":"T","k":"pt","t":"14","s":"IL","v":18.5},{"p":"T","k":"pt","t":"14","s":"IL","v":13},{"p":"T","k":"pt","t":"14","s":"IL","v":11.5},{"p":"T","k":"pt","t":"14","s":"IL","v":9},{"p":"T","k":"pt","t":"14","s":"IL","v":7},{"p":"T","k":"pt","t":"14","s":"IL","v":1},
{"p":"T","k":"pt","t":"14","s":"CL","v":8.5},{"p":"T","k":"pt","t":"14","s":"CL","v":7.5},{"p":"T","k":"pt","t":"14","s":"CL","v":6.5},{"p":"T","k":"pt","t":"14","s":"CL","v":5},{"p":"T","k":"pt","t":"14","s":"CL","v":3},{"p":"T","k":"pt","t":"14","s":"CL","v":1.5},
{"p":"T","k":"pt","t":"30","s":"IL","v":13},{"p":"T","k":"pt","t":"30","s":"IL","v":12.5},{"p":"T","k":"pt","t":"30","s":"IL","v":12},{"p":"T","k":"pt","t":"30","s":"IL","v":11},{"p":"T","k":"pt","t":"30","s":"IL","v":10.5},{"p":"T","k":"pt","t":"30","s":"IL","v":10},{"p":"T","k":"pt","t":"30","s":"IL","v":9},{"p":"T","k":"pt","t":"30","s":"IL","v":8},{"p":"T","k":"pt","t":"30","s":"IL","v":7.5},{"p":"T","k":"pt","t":"30","s":"IL","v":6.5},{"p":"T","k":"pt","t":"30","s":"IL","v":6},{"p":"T","k":"pt","t":"30","s":"IL","v":5},{"p":"T","k":"pt","t":"30","s":"IL","v":4},{"p":"T","k":"pt","t":"30","s":"IL","v":2},
{"p":"T","k":"pt","t":"30","s":"CL","v":10},{"p":"T","k":"pt","t":"30","s":"CL","v":9.5},{"p":"T","k":"pt","t":"30","s":"CL","v":8.5},{"p":"T","k":"pt","t":"30","s":"CL","v":7},{"p":"T","k":"pt","t":"30","s":"CL","v":6},{"p":"T","k":"pt","t":"30","s":"CL","v":5},{"p":"T","k":"pt","t":"30","s":"CL","v":4.5},{"p":"T","k":"pt","t":"30","s":"CL","v":4},{"p":"T","k":"pt","t":"30","s":"CL","v":3.5},{"p":"T","k":"pt","t":"30","s":"CL","v":2.5},{"p":"T","k":"pt","t":"30","s":"CL","v":1.5},
{"p":"T","k":"pt","t":"100","s":"IL","v":30.5},{"p":"T","k":"pt","t":"100","s":"IL","v":26.5},{"p":"T","k":"pt","t":"100","s":"IL","v":23},{"p":"T","k":"pt","t":"100","s":"IL","v":19},{"p":"T","k":"pt","t":"100","s":"IL","v":16},{"p":"T","k":"pt","t":"100","s":"IL","v":14},{"p":"T","k":"pt","t":"100","s":"IL","v":13},{"p":"T","k":"pt","t":"100","s":"IL","v":8},{"p":"T","k":"pt","t":"100","s":"IL","v":1},
{"p":"T","k":"pt","t":"100","s":"CL","v":11},{"p":"T","k":"pt","t":"100","s":"CL","v":10},{"p":"T","k":"pt","t":"100","s":"CL","v":9.5},{"p":"T","k":"pt","t":"100","s":"CL","v":8.5},{"p":"T","k":"pt","t":"100","s":"CL","v":7},{"p":"T","k":"pt","t":"100","s":"CL","v":6},{"p":"T","k":"pt","t":"100","s":"CL","v":4.5},{"p":"T","k":"pt","t":"100","s":"CL","v":3},{"p":"T","k":"pt","t":"100","s":"CL","v":1},
{"p":"T","k":"sm","t":"3","s":"IL","v":17.4,"lo":15.2,"hi":19.6},{"p":"T","k":"sm","t":"3","s":"CL","v":11.3,"lo":10,"hi":12.6},
{"p":"T","k":"sm","t":"12","s":"IL","v":21.6,"lo":15,"hi":28},{"p":"T","k":"sm","t":"12","s":"CL","v":7.9,"lo":6.9,"hi":8.9},
{"p":"T","k":"sm","t":"24","s":"IL","v":32.2,"lo":23,"hi":41},{"p":"T","k":"sm","t":"24","s":"CL","v":8.1,"lo":7.3,"hi":8.9},
{"p":"T","k":"sm","t":"48","s":"IL","v":38,"lo":26,"hi":51},{"p":"T","k":"sm","t":"48","s":"CL","v":8.5,"lo":7.3,"hi":9.7},
{"p":"T","k":"sm","t":"72","s":"IL","v":30.5,"lo":28.5,"hi":32.5},{"p":"T","k":"sm","t":"72","s":"CL","v":8,"lo":7.5,"hi":8.5},
{"p":"T","k":"sm","t":"7","s":"IL","v":52.5,"lo":37.5,"hi":67.5},{"p":"T","k":"sm","t":"7","s":"CL","v":9.9,"lo":9.2,"hi":10.6},
{"p":"T","k":"sm","t":"14","s":"IL","v":12.7,"lo":9.5,"hi":16},{"p":"T","k":"sm","t":"14","s":"CL","v":5.3,"lo":4.2,"hi":6.4},
{"p":"T","k":"sm","t":"30","s":"IL","v":8.4,"lo":7.5,"hi":9.3},{"p":"T","k":"sm","t":"30","s":"CL","v":5.6,"lo":4.7,"hi":6.5},
{"p":"T","k":"sm","t":"100","s":"IL","v":17,"lo":13.5,"hi":20.5},{"p":"T","k":"sm","t":"100","s":"CL","v":6.7,"lo":5.6,"hi":7.8},
{"p":"T","k":"sig","t":"72","v":88,"star":"***"}
]},
"spacing": 20,
"center": true,
"vconcat": [
{"spacing": 24, "vconcat": [
{"spacing": 38, "hconcat": [
{"width": 231, "height": 78,
 "title": {"text": "Hippocampus", "frame": "group", "offset": -1},
 "data": {"name": "d"},
 "transform": [{"filter": "datum.p === 'H' || datum.p === 'all'"}],
 "encoding": {
  "x": {"field": "t", "type": "nominal", "scale": {"domain": ["3","12","24","48","72","7","14","30","100"], "paddingInner": 0, "paddingOuter": 0}, "axis": {"title": "Time after hypoxia", "labelAngle": 0, "ticks": false, "tickSize": 0, "labelPadding": 17, "titlePadding": 19}},
  "y": {"field": "v", "type": "quantitative", "scale": {"domain": [0, 70], "nice": false}, "axis": {"title": "Area GFAP+ (%)", "values": [0,10,20,30,40,50,60,70], "titlePadding": 5.5}}
 },
 "layer": [
  {"transform": [{"filter": "datum.k === 'pt' && datum.s === 'IL'"}], "mark": {"type": "circle", "size": 18, "color": "#ee8433", "opacity": 1}, "encoding": {"xOffset": {"field": "s", "type": "nominal", "scale": {"domain": ["IL","CL"]}}}},
  {"transform": [{"filter": "datum.k === 'pt' && datum.s === 'CL'"}], "mark": {"type": "point", "shape": "circle", "size": 14, "filled": false, "color": "black", "strokeWidth": 0.9, "opacity": 1}, "encoding": {"xOffset": {"field": "s", "type": "nominal", "scale": {"domain": ["IL","CL"]}}}},
  {"transform": [{"filter": "datum.k === 'sm'"}], "mark": {"type": "rule", "color": "#222", "strokeWidth": 1}, "encoding": {"xOffset": {"field": "s", "type": "nominal", "scale": {"domain": ["IL","CL"]}}, "y": {"field": "lo", "type": "quantitative", "title": "Area GFAP+ (%)"}, "y2": {"field": "hi"}}},
  {"transform": [{"filter": "datum.k === 'sm'"}], "mark": {"type": "tick", "orient": "horizontal", "size": 7, "thickness": 1, "color": "#222"}, "encoding": {"xOffset": {"field": "s", "type": "nominal", "scale": {"domain": ["IL","CL"]}}, "y": {"field": "lo", "type": "quantitative", "title": "Area GFAP+ (%)"}}},
  {"transform": [{"filter": "datum.k === 'sm'"}], "mark": {"type": "tick", "orient": "horizontal", "size": 7, "thickness": 1, "color": "#222"}, "encoding": {"xOffset": {"field": "s", "type": "nominal", "scale": {"domain": ["IL","CL"]}}, "y": {"field": "hi", "type": "quantitative", "title": "Area GFAP+ (%)"}}},
  {"transform": [{"filter": "datum.k === 'sm'"}], "mark": {"type": "tick", "orient": "horizontal", "size": 12, "thickness": 1, "color": "#222"}, "encoding": {"xOffset": {"field": "s", "type": "nominal", "scale": {"domain": ["IL","CL"]}}}},
  {"transform": [{"filter": "datum.k === 'sig'"}], "mark": {"type": "tick", "orient": "horizontal", "size": 15, "thickness": 1, "color": "#333"}},
  {"transform": [{"filter": "datum.k === 'sig'"}], "mark": {"type": "text", "dy": -5, "baseline": "middle", "fontSize": 11}, "encoding": {"text": {"field": "star"}}},
  {"transform": [{"filter": "datum.k === 'lab'"}], "mark": {"type": "tick", "orient": "vertical", "size": 3, "thickness": 1, "yOffset": 1.5, "color": "black", "clip": false}, "encoding": {"xOffset": {"field": "s", "type": "nominal", "scale": {"domain": ["IL","CL"]}}}},
  {"transform": [{"filter": "datum.k === 'lab'"}], "mark": {"type": "text", "dy": 10, "baseline": "middle", "fontSize": 10, "clip": false}, "encoding": {"xOffset": {"field": "s", "type": "nominal", "scale": {"domain": ["IL","CL"]}}, "text": {"field": "s"}}},
  {"transform": [{"filter": "datum.k === 'lab' && datum.s === 'IL'"}], "mark": {"type": "tick", "orient": "horizontal", "size": 16, "thickness": 1, "yOffset": 14, "color": "#777", "clip": false}},
  {"transform": [{"filter": "datum.k === 'u'"}], "mark": {"type": "text", "dy": 34, "baseline": "middle", "fontSize": 10, "clip": false}, "encoding": {"text": {"field": "txt"}}},
  {"transform": [{"filter": "datum.k === 'u2'"}], "mark": {"type": "text", "dy": 34, "baseline": "middle", "fontSize": 10, "clip": false}, "encoding": {"x": {"field": "t", "type": "nominal", "bandPosition": 1}, "text": {"field": "txt"}}}
 ]},
{"width": 231, "height": 78,
 "title": {"text": "Corpus callosum", "frame": "group", "offset": -1},
 "data": {"name": "d"},
 "transform": [{"filter": "datum.p === 'C' || datum.p === 'all'"}],
 "encoding": {
  "x": {"field": "t", "type": "nominal", "scale": {"domain": ["3","12","24","48","72","7","14","30","100"], "paddingInner": 0, "paddingOuter": 0}, "axis": {"title": "Time after hypoxia", "labelAngle": 0, "ticks": false, "tickSize": 0, "labelPadding": 17, "titlePadding": 19}},
  "y": {"field": "v", "type": "quantitative", "scale": {"domain": [0, 50], "nice": false}, "axis": {"title": "Area GFAP+ (%)", "values": [0,10,20,30,40,50], "titlePadding": 5.5}}
 },
 "layer": [
  {"transform": [{"filter": "datum.k === 'pt' && datum.s === 'IL'"}], "mark": {"type": "circle", "size": 18, "color": "#ee8433", "opacity": 1}, "encoding": {"xOffset": {"field": "s", "type": "nominal", "scale": {"domain": ["IL","CL"]}}}},
  {"transform": [{"filter": "datum.k === 'pt' && datum.s === 'CL'"}], "mark": {"type": "point", "shape": "circle", "size": 14, "filled": false, "color": "black", "strokeWidth": 0.9, "opacity": 1}, "encoding": {"xOffset": {"field": "s", "type": "nominal", "scale": {"domain": ["IL","CL"]}}}},
  {"transform": [{"filter": "datum.k === 'sm'"}], "mark": {"type": "rule", "color": "#222", "strokeWidth": 1}, "encoding": {"xOffset": {"field": "s", "type": "nominal", "scale": {"domain": ["IL","CL"]}}, "y": {"field": "lo", "type": "quantitative", "title": "Area GFAP+ (%)"}, "y2": {"field": "hi"}}},
  {"transform": [{"filter": "datum.k === 'sm'"}], "mark": {"type": "tick", "orient": "horizontal", "size": 7, "thickness": 1, "color": "#222"}, "encoding": {"xOffset": {"field": "s", "type": "nominal", "scale": {"domain": ["IL","CL"]}}, "y": {"field": "lo", "type": "quantitative", "title": "Area GFAP+ (%)"}}},
  {"transform": [{"filter": "datum.k === 'sm'"}], "mark": {"type": "tick", "orient": "horizontal", "size": 7, "thickness": 1, "color": "#222"}, "encoding": {"xOffset": {"field": "s", "type": "nominal", "scale": {"domain": ["IL","CL"]}}, "y": {"field": "hi", "type": "quantitative", "title": "Area GFAP+ (%)"}}},
  {"transform": [{"filter": "datum.k === 'sm'"}], "mark": {"type": "tick", "orient": "horizontal", "size": 12, "thickness": 1, "color": "#222"}, "encoding": {"xOffset": {"field": "s", "type": "nominal", "scale": {"domain": ["IL","CL"]}}}},
  {"transform": [{"filter": "datum.k === 'sig'"}], "mark": {"type": "tick", "orient": "horizontal", "size": 15, "thickness": 1, "color": "#333"}},
  {"transform": [{"filter": "datum.k === 'sig'"}], "mark": {"type": "text", "dy": -5, "baseline": "middle", "fontSize": 11}, "encoding": {"text": {"field": "star"}}},
  {"transform": [{"filter": "datum.k === 'lab'"}], "mark": {"type": "tick", "orient": "vertical", "size": 3, "thickness": 1, "yOffset": 1.5, "color": "black", "clip": false}, "encoding": {"xOffset": {"field": "s", "type": "nominal", "scale": {"domain": ["IL","CL"]}}}},
  {"transform": [{"filter": "datum.k === 'lab'"}], "mark": {"type": "text", "dy": 10, "baseline": "middle", "fontSize": 10, "clip": false}, "encoding": {"xOffset": {"field": "s", "type": "nominal", "scale": {"domain": ["IL","CL"]}}, "text": {"field": "s"}}},
  {"transform": [{"filter": "datum.k === 'lab' && datum.s === 'IL'"}], "mark": {"type": "tick", "orient": "horizontal", "size": 16, "thickness": 1, "yOffset": 14, "color": "#777", "clip": false}},
  {"transform": [{"filter": "datum.k === 'u'"}], "mark": {"type": "text", "dy": 34, "baseline": "middle", "fontSize": 10, "clip": false}, "encoding": {"text": {"field": "txt"}}},
  {"transform": [{"filter": "datum.k === 'u2'"}], "mark": {"type": "text", "dy": 34, "baseline": "middle", "fontSize": 10, "clip": false}, "encoding": {"x": {"field": "t", "type": "nominal", "bandPosition": 1}, "text": {"field": "txt"}}}
 ]}
]},
{"spacing": 38, "hconcat": [
{"width": 231, "height": 78,
 "title": {"text": "Caudate-putamen", "frame": "group", "offset": -1},
 "data": {"name": "d"},
 "transform": [{"filter": "datum.p === 'P' || datum.p === 'all'"}],
 "encoding": {
  "x": {"field": "t", "type": "nominal", "scale": {"domain": ["3","12","24","48","72","7","14","30","100"], "paddingInner": 0, "paddingOuter": 0}, "axis": {"title": "Time after hypoxia", "labelAngle": 0, "ticks": false, "tickSize": 0, "labelPadding": 17, "titlePadding": 19}},
  "y": {"field": "v", "type": "quantitative", "scale": {"domain": [0, 100], "nice": false}, "axis": {"title": "Area GFAP+ (%)", "values": [0,20,40,60,80,100], "titlePadding": 0.5}}
 },
 "layer": [
  {"transform": [{"filter": "datum.k === 'pt' && datum.s === 'IL'"}], "mark": {"type": "circle", "size": 18, "color": "#ee8433", "opacity": 1}, "encoding": {"xOffset": {"field": "s", "type": "nominal", "scale": {"domain": ["IL","CL"]}}}},
  {"transform": [{"filter": "datum.k === 'pt' && datum.s === 'CL'"}], "mark": {"type": "point", "shape": "circle", "size": 14, "filled": false, "color": "black", "strokeWidth": 0.9, "opacity": 1}, "encoding": {"xOffset": {"field": "s", "type": "nominal", "scale": {"domain": ["IL","CL"]}}}},
  {"transform": [{"filter": "datum.k === 'sm'"}], "mark": {"type": "rule", "color": "#222", "strokeWidth": 1}, "encoding": {"xOffset": {"field": "s", "type": "nominal", "scale": {"domain": ["IL","CL"]}}, "y": {"field": "lo", "type": "quantitative", "title": "Area GFAP+ (%)"}, "y2": {"field": "hi"}}},
  {"transform": [{"filter": "datum.k === 'sm'"}], "mark": {"type": "tick", "orient": "horizontal", "size": 7, "thickness": 1, "color": "#222"}, "encoding": {"xOffset": {"field": "s", "type": "nominal", "scale": {"domain": ["IL","CL"]}}, "y": {"field": "lo", "type": "quantitative", "title": "Area GFAP+ (%)"}}},
  {"transform": [{"filter": "datum.k === 'sm'"}], "mark": {"type": "tick", "orient": "horizontal", "size": 7, "thickness": 1, "color": "#222"}, "encoding": {"xOffset": {"field": "s", "type": "nominal", "scale": {"domain": ["IL","CL"]}}, "y": {"field": "hi", "type": "quantitative", "title": "Area GFAP+ (%)"}}},
  {"transform": [{"filter": "datum.k === 'sm'"}], "mark": {"type": "tick", "orient": "horizontal", "size": 12, "thickness": 1, "color": "#222"}, "encoding": {"xOffset": {"field": "s", "type": "nominal", "scale": {"domain": ["IL","CL"]}}}},
  {"transform": [{"filter": "datum.k === 'sig'"}], "mark": {"type": "tick", "orient": "horizontal", "size": 15, "thickness": 1, "color": "#333"}},
  {"transform": [{"filter": "datum.k === 'sig'"}], "mark": {"type": "text", "dy": -5, "baseline": "middle", "fontSize": 11}, "encoding": {"text": {"field": "star"}}},
  {"transform": [{"filter": "datum.k === 'lab'"}], "mark": {"type": "tick", "orient": "vertical", "size": 3, "thickness": 1, "yOffset": 1.5, "color": "black", "clip": false}, "encoding": {"xOffset": {"field": "s", "type": "nominal", "scale": {"domain": ["IL","CL"]}}}},
  {"transform": [{"filter": "datum.k === 'lab'"}], "mark": {"type": "text", "dy": 10, "baseline": "middle", "fontSize": 10, "clip": false}, "encoding": {"xOffset": {"field": "s", "type": "nominal", "scale": {"domain": ["IL","CL"]}}, "text": {"field": "s"}}},
  {"transform": [{"filter": "datum.k === 'lab' && datum.s === 'IL'"}], "mark": {"type": "tick", "orient": "horizontal", "size": 16, "thickness": 1, "yOffset": 14, "color": "#777", "clip": false}},
  {"transform": [{"filter": "datum.k === 'u'"}], "mark": {"type": "text", "dy": 34, "baseline": "middle", "fontSize": 10, "clip": false}, "encoding": {"text": {"field": "txt"}}},
  {"transform": [{"filter": "datum.k === 'u2'"}], "mark": {"type": "text", "dy": 34, "baseline": "middle", "fontSize": 10, "clip": false}, "encoding": {"x": {"field": "t", "type": "nominal", "bandPosition": 1}, "text": {"field": "txt"}}}
 ]},
{"width": 231, "height": 78,
 "title": {"text": "Neocortex", "frame": "group", "offset": -1},
 "data": {"name": "d"},
 "transform": [{"filter": "datum.p === 'N' || datum.p === 'all'"}],
 "encoding": {
  "x": {"field": "t", "type": "nominal", "scale": {"domain": ["3","12","24","48","72","7","14","30","100"], "paddingInner": 0, "paddingOuter": 0}, "axis": {"title": "Time after hypoxia", "labelAngle": 0, "ticks": false, "tickSize": 0, "labelPadding": 17, "titlePadding": 19}},
  "y": {"field": "v", "type": "quantitative", "scale": {"domain": [0, 100], "nice": false}, "axis": {"title": "Area GFAP+ (%)", "values": [0,20,40,60,80,100], "titlePadding": 0.5}}
 },
 "layer": [
  {"transform": [{"filter": "datum.k === 'pt' && datum.s === 'IL'"}], "mark": {"type": "circle", "size": 18, "color": "#ee8433", "opacity": 1}, "encoding": {"xOffset": {"field": "s", "type": "nominal", "scale": {"domain": ["IL","CL"]}}}},
  {"transform": [{"filter": "datum.k === 'pt' && datum.s === 'CL'"}], "mark": {"type": "point", "shape": "circle", "size": 14, "filled": false, "color": "black", "strokeWidth": 0.9, "opacity": 1}, "encoding": {"xOffset": {"field": "s", "type": "nominal", "scale": {"domain": ["IL","CL"]}}}},
  {"transform": [{"filter": "datum.k === 'sm'"}], "mark": {"type": "rule", "color": "#222", "strokeWidth": 1}, "encoding": {"xOffset": {"field": "s", "type": "nominal", "scale": {"domain": ["IL","CL"]}}, "y": {"field": "lo", "type": "quantitative", "title": "Area GFAP+ (%)"}, "y2": {"field": "hi"}}},
  {"transform": [{"filter": "datum.k === 'sm'"}], "mark": {"type": "tick", "orient": "horizontal", "size": 7, "thickness": 1, "color": "#222"}, "encoding": {"xOffset": {"field": "s", "type": "nominal", "scale": {"domain": ["IL","CL"]}}, "y": {"field": "lo", "type": "quantitative", "title": "Area GFAP+ (%)"}}},
  {"transform": [{"filter": "datum.k === 'sm'"}], "mark": {"type": "tick", "orient": "horizontal", "size": 7, "thickness": 1, "color": "#222"}, "encoding": {"xOffset": {"field": "s", "type": "nominal", "scale": {"domain": ["IL","CL"]}}, "y": {"field": "hi", "type": "quantitative", "title": "Area GFAP+ (%)"}}},
  {"transform": [{"filter": "datum.k === 'sm'"}], "mark": {"type": "tick", "orient": "horizontal", "size": 12, "thickness": 1, "color": "#222"}, "encoding": {"xOffset": {"field": "s", "type": "nominal", "scale": {"domain": ["IL","CL"]}}}},
  {"transform": [{"filter": "datum.k === 'sig'"}], "mark": {"type": "tick", "orient": "horizontal", "size": 15, "thickness": 1, "color": "#333"}},
  {"transform": [{"filter": "datum.k === 'sig'"}], "mark": {"type": "text", "dy": -5, "baseline": "middle", "fontSize": 11}, "encoding": {"text": {"field": "star"}}},
  {"transform": [{"filter": "datum.k === 'lab'"}], "mark": {"type": "tick", "orient": "vertical", "size": 3, "thickness": 1, "yOffset": 1.5, "color": "black", "clip": false}, "encoding": {"xOffset": {"field": "s", "type": "nominal", "scale": {"domain": ["IL","CL"]}}}},
  {"transform": [{"filter": "datum.k === 'lab'"}], "mark": {"type": "text", "dy": 10, "baseline": "middle", "fontSize": 10, "clip": false}, "encoding": {"xOffset": {"field": "s", "type": "nominal", "scale": {"domain": ["IL","CL"]}}, "text": {"field": "s"}}},
  {"transform": [{"filter": "datum.k === 'lab' && datum.s === 'IL'"}], "mark": {"type": "tick", "orient": "horizontal", "size": 16, "thickness": 1, "yOffset": 14, "color": "#777", "clip": false}},
  {"transform": [{"filter": "datum.k === 'u'"}], "mark": {"type": "text", "dy": 34, "baseline": "middle", "fontSize": 10, "clip": false}, "encoding": {"text": {"field": "txt"}}},
  {"transform": [{"filter": "datum.k === 'u2'"}], "mark": {"type": "text", "dy": 34, "baseline": "middle", "fontSize": 10, "clip": false}, "encoding": {"x": {"field": "t", "type": "nominal", "bandPosition": 1}, "text": {"field": "txt"}}}
 ]}
]}
]},
{"width": 231, "height": 78,
 "title": {"text": "Thalamus", "frame": "group", "offset": 12},
 "data": {"name": "d"},
 "transform": [{"filter": "datum.p === 'T' || datum.p === 'all'"}],
 "encoding": {
  "x": {"field": "t", "type": "nominal", "scale": {"domain": ["3","12","24","48","72","7","14","30","100"], "paddingInner": 0, "paddingOuter": 0}, "axis": {"title": "Time after hypoxia", "labelAngle": 0, "ticks": false, "tickSize": 0, "labelPadding": 17, "titlePadding": 19}},
  "y": {"field": "v", "type": "quantitative", "scale": {"domain": [0, 100], "nice": false}, "axis": {"title": "Area GFAP+ (%)", "values": [0,20,40,60,80,100], "titlePadding": 0.5}}
 },
 "layer": [
  {"transform": [{"filter": "datum.k === 'pt' && datum.s === 'IL'"}], "mark": {"type": "circle", "size": 18, "color": "#ee8433", "opacity": 1}, "encoding": {"xOffset": {"field": "s", "type": "nominal", "scale": {"domain": ["IL","CL"]}}}},
  {"transform": [{"filter": "datum.k === 'pt' && datum.s === 'CL'"}], "mark": {"type": "point", "shape": "circle", "size": 14, "filled": false, "color": "black", "strokeWidth": 0.9, "opacity": 1}, "encoding": {"xOffset": {"field": "s", "type": "nominal", "scale": {"domain": ["IL","CL"]}}}},
  {"transform": [{"filter": "datum.k === 'sm'"}], "mark": {"type": "rule", "color": "#222", "strokeWidth": 1}, "encoding": {"xOffset": {"field": "s", "type": "nominal", "scale": {"domain": ["IL","CL"]}}, "y": {"field": "lo", "type": "quantitative", "title": "Area GFAP+ (%)"}, "y2": {"field": "hi"}}},
  {"transform": [{"filter": "datum.k === 'sm'"}], "mark": {"type": "tick", "orient": "horizontal", "size": 7, "thickness": 1, "color": "#222"}, "encoding": {"xOffset": {"field": "s", "type": "nominal", "scale": {"domain": ["IL","CL"]}}, "y": {"field": "lo", "type": "quantitative", "title": "Area GFAP+ (%)"}}},
  {"transform": [{"filter": "datum.k === 'sm'"}], "mark": {"type": "tick", "orient": "horizontal", "size": 7, "thickness": 1, "color": "#222"}, "encoding": {"xOffset": {"field": "s", "type": "nominal", "scale": {"domain": ["IL","CL"]}}, "y": {"field": "hi", "type": "quantitative", "title": "Area GFAP+ (%)"}}},
  {"transform": [{"filter": "datum.k === 'sm'"}], "mark": {"type": "tick", "orient": "horizontal", "size": 12, "thickness": 1, "color": "#222"}, "encoding": {"xOffset": {"field": "s", "type": "nominal", "scale": {"domain": ["IL","CL"]}}}},
  {"transform": [{"filter": "datum.k === 'sig'"}], "mark": {"type": "tick", "orient": "horizontal", "size": 15, "thickness": 1, "color": "#333"}},
  {"transform": [{"filter": "datum.k === 'sig'"}], "mark": {"type": "text", "dy": -5, "baseline": "middle", "fontSize": 11}, "encoding": {"text": {"field": "star"}}},
  {"transform": [{"filter": "datum.k === 'lab'"}], "mark": {"type": "tick", "orient": "vertical", "size": 3, "thickness": 1, "yOffset": 1.5, "color": "black", "clip": false}, "encoding": {"xOffset": {"field": "s", "type": "nominal", "scale": {"domain": ["IL","CL"]}}}},
  {"transform": [{"filter": "datum.k === 'lab'"}], "mark": {"type": "text", "dy": 10, "baseline": "middle", "fontSize": 10, "clip": false}, "encoding": {"xOffset": {"field": "s", "type": "nominal", "scale": {"domain": ["IL","CL"]}}, "text": {"field": "s"}}},
  {"transform": [{"filter": "datum.k === 'lab' && datum.s === 'IL'"}], "mark": {"type": "tick", "orient": "horizontal", "size": 16, "thickness": 1, "yOffset": 14, "color": "#777", "clip": false}},
  {"transform": [{"filter": "datum.k === 'u'"}], "mark": {"type": "text", "dy": 34, "baseline": "middle", "fontSize": 10, "clip": false}, "encoding": {"text": {"field": "txt"}}},
  {"transform": [{"filter": "datum.k === 'u2'"}], "mark": {"type": "text", "dy": 34, "baseline": "middle", "fontSize": 10, "clip": false}, "encoding": {"x": {"field": "t", "type": "nominal", "bandPosition": 1}, "text": {"field": "txt"}}}
 ]}
]
}
